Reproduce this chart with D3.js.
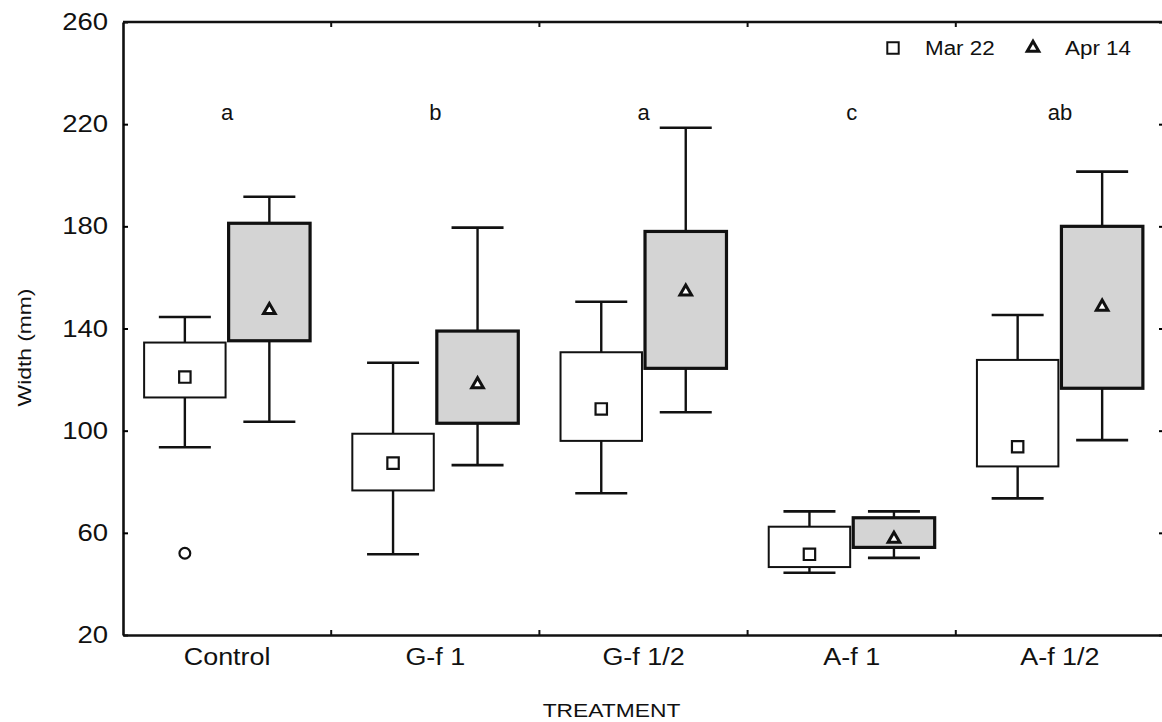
<!DOCTYPE html>
<html>
<head>
<meta charset="utf-8">
<script src="https://cdn.jsdelivr.net/npm/d3@7.9.0/dist/d3.min.js"></script>
<style>
  body { margin: 0; background: #fff; }
  svg { display: block; font-family: "Liberation Sans", Arial, sans-serif; }
</style>
</head>
<body>
<svg id="chart" width="1162" height="722"></svg>
<script>
// data
const categories = ["Control", "G-f 1", "G-f 1/2", "A-f 1", "A-f 1/2"];
const series = ["Mar 22", "Apr 14"];
const groupLetters = ["a", "b", "a", "c", "ab"];
const yTicks = [20, 60, 100, 140, 180, 220, 260];

// [whisker low, box low, centre, box high, whisker high]
const mar22 = [
    [93.5, 113.0, 121.0, 134.5, 144.5],
    [51.6, 76.6, 87.3, 98.8, 126.6],
    [75.5, 96.0, 108.5, 130.7, 150.5],
    [44.4, 46.6, 51.6, 62.4, 68.4],
    [73.5, 86.0, 93.7, 127.7, 145.3]
];
const apr14 = [
    [103.5, 135.2, 147.2, 181.2, 191.6],
    [86.5, 102.9, 118.1, 139.0, 179.5],
    [107.2, 124.4, 154.4, 178.0, 218.6],
    [50.2, 54.3, 57.6, 65.9, 68.4],
    [96.3, 116.6, 148.5, 180.0, 201.4]
];
const outliers = [{ cat: "Control", s: "Mar 22", v: 52 }];

const svg = d3.select("#chart");
const margin = { top: 22, right: -2, bottom: 87, left: 123 };
const width = 1162 - margin.left - margin.right;
const height = 722 - margin.top - margin.bottom;

const g = svg.append("g").attr("transform", `translate(${margin.left},${margin.top})`);

const x = d3.scaleBand().domain(categories).range([0, width]);
const xs = d3.scaleBand().domain(series).range([0, x.bandwidth()])
    .paddingInner(0.036).paddingOuter(0.25);
const y = d3.scaleLinear().domain([20, 260]).range([height, 0]);

// widen text a bit, the scan's lettering is broader than Arial
function stretch(sel, k) {
    sel.each(function () {
        const len = this.getComputedTextLength();
        d3.select(this).attr("textLength", len * k).attr("lengthAdjust", "spacingAndGlyphs");
    });
}

// boxes
const rows = [];
categories.forEach((c, i) => {
    rows.push({ cat: c, s: "Mar 22", v: mar22[i] });
    rows.push({ cat: c, s: "Apr 14", v: apr14[i] });
});

const capW = 52;
const box = g.selectAll(".box").data(rows).enter().append("g")
    .attr("class", "box")
    .attr("transform", d => `translate(${x(d.cat) + xs(d.s)},0)`);

const bw = xs.bandwidth();
box.append("line")
    .attr("x1", bw / 2).attr("x2", bw / 2)
    .attr("y1", d => y(d.v[0])).attr("y2", d => y(d.v[4]))
    .attr("stroke", "#111").attr("stroke-width", 2.4);
box.selectAll(".cap").data(d => [d.v[0], d.v[4]]).enter().append("line")
    .attr("x1", bw / 2 - capW / 2).attr("x2", bw / 2 + capW / 2)
    .attr("y1", d => y(d)).attr("y2", d => y(d))
    .attr("stroke", "#111").attr("stroke-width", 2.6);
box.append("rect")
    .attr("x", 0).attr("width", bw)
    .attr("y", d => y(d.v[3])).attr("height", d => y(d.v[1]) - y(d.v[3]))
    .attr("fill", d => d.s === "Mar 22" ? "#fff" : "#d4d4d4")
    .attr("stroke", "#111")
    .attr("stroke-width", d => d.s === "Mar 22" ? 2 : 3.2);

const square = d3.symbol(d3.symbolSquare, 130);
const tri = d3.symbol(d3.symbolTriangle, 58);

box.append("path")
    .attr("transform", d => `translate(${bw / 2},${y(d.v[2])})`)
    .attr("d", d => d.s === "Mar 22" ? square() : tri())
    .attr("fill", "#fff").attr("stroke", "#111")
    .attr("stroke-width", d => d.s === "Mar 22" ? 2.2 : 3);

g.selectAll(".outlier").data(outliers).enter().append("circle")
    .attr("cx", d => x(d.cat) + xs(d.s) + bw / 2)
    .attr("cy", d => y(d.v))
    .attr("r", 5.4)
    .attr("fill", "#fff").attr("stroke", "#111").attr("stroke-width", 2.2);

// letters
g.selectAll(".letter").data(groupLetters).enter().append("text")
    .attr("x", (d, i) => x(categories[i]) + x.bandwidth() / 2)
    .attr("y", y(221.5))
    .attr("text-anchor", "middle")
    .style("font-size", "22px").attr("fill", "#111")
    .text(d => d);

// axes
const yAxis = g.append("g")
    .call(d3.axisLeft(y).tickValues(yTicks).tickSizeInner(-5).tickSizeOuter(0).tickPadding(15));
yAxis.select(".domain").attr("stroke-width", 2.6).attr("stroke", "#111");
yAxis.selectAll(".tick line").attr("stroke-width", 2);
yAxis.selectAll(".tick text").style("font-size", "23.5px").attr("fill", "#111").call(stretch, 1.17);

const yRight = g.append("g").attr("transform", `translate(${width},0)`)
    .call(d3.axisRight(y).tickValues(yTicks).tickSizeInner(-5).tickSizeOuter(0).tickFormat(""));
yRight.select(".domain").remove();
yRight.selectAll(".tick line").attr("stroke-width", 2);

const xAxis = g.append("g").attr("transform", `translate(0,${height})`)
    .call(d3.axisBottom(x).tickSize(0).tickPadding(14));
xAxis.select(".domain").attr("stroke-width", 2.6).attr("stroke", "#111");
xAxis.selectAll(".tick text").style("font-size", "23px").attr("fill", "#111").call(stretch, 1.17);

const bounds = categories.slice(1).map(c => x(c));
g.append("line").attr("x1", 0).attr("x2", width).attr("y1", 0).attr("y2", 0)
    .attr("stroke", "#111").attr("stroke-width", 2.4);
g.selectAll(".btick").data(bounds).enter().append("line")
    .attr("x1", d => d).attr("x2", d => d).attr("y1", height).attr("y2", height - 5)
    .attr("stroke", "#111").attr("stroke-width", 2);
g.selectAll(".ttick").data(bounds).enter().append("line")
    .attr("x1", d => d).attr("x2", d => d).attr("y1", 0).attr("y2", 5)
    .attr("stroke", "#111").attr("stroke-width", 2);

// axis titles
g.append("text")
    .attr("transform", `translate(${-margin.left + 31},${height / 2 + 19}) rotate(-90)`)
    .attr("text-anchor", "middle")
    .style("font-size", "19px").attr("fill", "#111")
    .text("Width (mm)").call(stretch, 1.2);

g.append("text")
    .attr("x", width / 2 - 32).attr("y", height + 82)
    .attr("text-anchor", "middle")
    .style("font-size", "19px").attr("fill", "#111")
    .text("TREATMENT").call(stretch, 1.2);

// legend
const legX = [893 - margin.left, 1033 - margin.left];
series.forEach((s, i) => {
    g.append("path")
        .attr("transform", `translate(${legX[i]},26)`)
        .attr("d", i === 0 ? square() : tri())
        .attr("fill", "#fff").attr("stroke", "#111")
        .attr("stroke-width", i === 0 ? 2 : 3);
    g.append("text")
        .attr("x", legX[i] + 32).attr("y", 33)
        .style("font-size", "20px").attr("fill", "#111")
        .text(s).call(stretch, 1.12);
});
</script>
</body>
</html>
